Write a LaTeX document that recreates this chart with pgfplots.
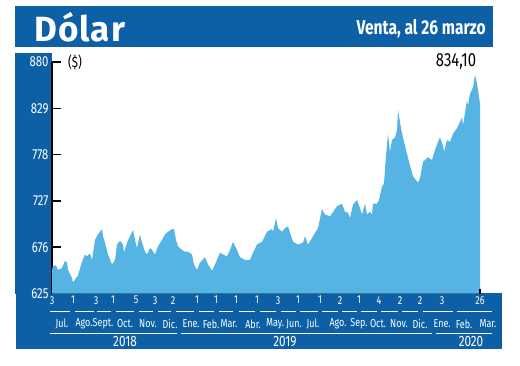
\documentclass[border=0pt]{standalone}
\usepackage{fontspec}
\setmainfont{Fira Sans}
\newfontfamily\cond[FakeStretch=0.78]{Fira Sans}
\usepackage{pgfplots}
\pgfplotsset{compat=1.18}
\definecolor{dblue}{RGB}{14,96,166}
\definecolor{lblue}{RGB}{86,180,228}

\pgfplotstableread{
x y
0 651
1 655
4 656
6 651
10 653
13 661
15 659
16 651
20 642
21 637
24 642
26 645
30 660
33 668
35 666
38 669
40 662
43 684
46 690
50 696
51 688
53 681
56 668
60 657
63 662
65 679
68 683
71 679
72 670
75 681
78 688
81 695
83 684
85 675
88 690
90 681
93 671
95 668
98 675
100 673
103 668
106 677
110 684
113 690
116 693
120 696
122 696
124 684
126 677
130 673
133 671
136 671
140 668
142 657
145 651
148 659
153 665
156 657
160 650
163 657
168 670
171 668
175 666
178 673
181 682
185 673
188 665
193 662
198 662
201 670
205 679
210 682
215 693
220 696
221 693
224 708
226 697
230 693
233 697
236 699
238 692
241 682
246 679
251 681
253 688
256 679
261 688
266 697
270 718
273 712
278 710
285 721
290 724
293 715
296 714
298 708
301 723
305 728
308 719
310 712
313 724
315 712
318 715
320 712
321 724
325 724
327 728
330 743
332 746
334 777
336 801
338 781
340 794
343 797
345 805
346 827
349 807
351 797
355 779
358 766
361 754
364 750
366 747
368 752
371 770
373 772
376 775
380 772
383 783
386 792
388 797
391 788
392 781
395 794
398 792
401 801
405 807
408 814
410 819
411 810
415 838
416 832
418 845
421 852
423 866
425 856
426 849
428 834.1
}\dolar

\begin{document}
\begin{tikzpicture}
\begin{scope}[x=1pt,y=-1pt]
\path[use as bounding box] (0,0) rectangle (520,365);
\fill[dblue] (15,6) rectangle (493,47);
\node[anchor=west, text=white, inner sep=0pt, font=\bfseries\addfontfeatures{LetterSpace=3}\fontsize{35}{35}\selectfont] at (34,27) {Dólar};
\node[anchor=east, text=white, inner sep=0pt, font=\cond\bfseries\fontsize{20}{20}\selectfont] at (486,29) {Venta, al 26 marzo};
\fill[dblue] (15,53) rectangle (52,294);
\fill[dblue] (16,293) rectangle (502,349);
\end{scope}

\begin{axis}[
  at={(52pt,-293.5pt)}, anchor=south west,
  width=428pt, height=231.5pt, scale only axis,
  xmin=0, xmax=428, ymin=625, ymax=880,
  axis x line*=bottom, axis y line*=left,
  axis line style={black, line width=1.3pt, -},
  ytick={625,676,727,778,829,880},
  tick align=inside,
  major tick length=9pt,
  y tick style={black, line width=1.5pt},
  yticklabel style={text=white, font=\cond\fontsize{14.5}{14.5}\selectfont},
  xtick={0,21,44,61,84,103,121,145,164,184,205,226,246,268,288,307,327,348,368,390,428},
  xticklabels={3,1,3,1,5,3,2,1,1,1,1,3,1,1,2,1,4,2,2,3,26},
  x tick style={draw=none},
  xticklabel style={text=white, font=\cond\fontsize{11.5}{11.5}\selectfont, anchor=north, inner sep=0pt, yshift=-2.5pt},
  /pgf/number format/assume math mode=true,
]
\addplot[fill=lblue, draw=none] table[x=x, y=y] {\dolar} \closedcycle;
\end{axis}

\begin{scope}[x=1pt,y=-1pt]
\draw[black, line width=1.3pt] (480,293.5) -- (480,289);
\node[anchor=west, inner sep=0pt, font=\cond\fontsize{15}{15}\selectfont] at (68,62) {(\$)};
\node[inner sep=0pt, font=\cond\fontsize{19}{19}\selectfont] at (456,61.5) {834,10};
% month underlines
\foreach \a/\b in {50/70,75/94,97/111,116/134,139/153,158/171,176/194,199/214,219/233,239/255,260/276,281/296,300/318,322/338,342/357,361/377,381/398,402/418,423/438,433/453,457/492}
  \draw[white, line width=0.7pt] (\a,311.5) -- (\b,311.5);
% month names
\foreach \xx/\m in {62/Jul.,84/Ago.,103/Sept.,125/Oct.,148/Nov.,170/Dic.,191/Ene.,211/Feb.,229/Mar.,253/Abr.,275/May.,294/Jun.,313/Jul.,338/Ago.,359/Sep.,378/Oct.,399/Nov.,420/Dic.,442/Ene.,464/Feb.,488/Mar.}
  \node[text=white, inner sep=0pt, font=\cond\fontsize{11.5}{11.5}\selectfont] at (\xx,324) {\m};
% year lines
\draw[white, line width=0.7pt] (50,333) -- (177,333);
\draw[white, line width=0.7pt] (181,333) -- (432,333);
\draw[white, line width=0.7pt] (436,333) -- (492,333);
\node[text=white, inner sep=0pt, font=\cond\fontsize{15}{15}\selectfont] at (125,341.5) {2018};
\node[text=white, inner sep=0pt, font=\cond\fontsize{15}{15}\selectfont] at (285,341.5) {2019};
\node[text=white, inner sep=0pt, font=\cond\fontsize{15}{15}\selectfont] at (471,341.5) {2020};
\end{scope}
\end{tikzpicture}
\end{document}
